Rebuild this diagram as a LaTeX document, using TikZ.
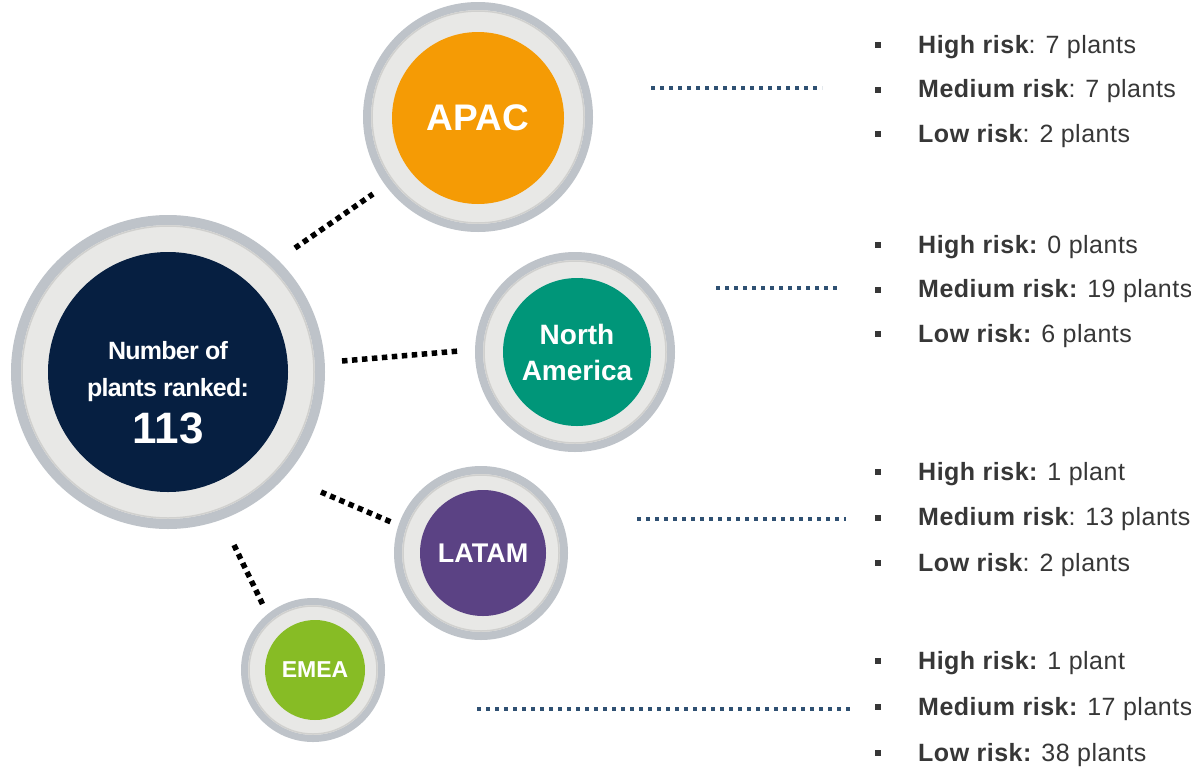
\documentclass[tikz,border=0pt]{standalone}
\usepackage{fontspec}
\setmainfont{Liberation Sans}
\newfontfamily\listfont{Liberation Sans}[LetterSpace=2]
\newfontfamily\tightfont{Liberation Sans}[LetterSpace=-3]
\definecolor{ringgray}{RGB}{190,195,201}
\definecolor{ringmid}{RGB}{208,208,206}
\definecolor{ringlight}{RGB}{232,232,230}
\definecolor{navy}{RGB}{6,31,65}
\definecolor{apacc}{RGB}{245,155,5}
\definecolor{nac}{RGB}{0,150,121}
\definecolor{latamc}{RGB}{91,66,132}
\definecolor{emeac}{RGB}{135,188,37}
\definecolor{linkblue}{RGB}{47,80,114}
\definecolor{txt}{RGB}{55,55,55}
\begin{document}
\begin{tikzpicture}[x=1pt,y=-1pt,
 ring/.style={circle, fill=ringlight, draw=ringgray, inner sep=0pt},
 ringline/.style={circle, draw=ringmid, line width=1.5pt, inner sep=0pt},
 core/.style={circle, inner sep=0pt, text=white, font=\bfseries, align=center},
 bigtext/.style={anchor=base, inner sep=0pt, text=white},
 blackdots/.style={line width=5.5pt, dash pattern=on 5.5pt off 4.5pt, black},
 bluedots/.style={line width=3.5pt, dash pattern=on 3.5pt off 5.5pt, linkblue},
 item/.style={anchor=base west, inner sep=0pt, text=txt, font=\listfont\fontsize{25}{30}\selectfont},
 bul/.style={rectangle, fill=txt, minimum size=6pt, inner sep=0pt},
]
\useasboundingbox[fill=white] (0,0) rectangle (1191,766);

% big circle
\node[ring, line width=10pt, minimum size=304pt] (big) at (168,372) {};
\node[ringline, minimum size=292pt] (bigl) at (168,372) {};
\node[core, fill=navy, minimum size=240pt] (bigc) at (168,372) {};
\node[bigtext, font=\tightfont\bfseries\fontsize{25}{30}\selectfont] (bigt1) at (168,359) {Number of};
\node[bigtext, font=\tightfont\bfseries\fontsize{25}{30}\selectfont] (bigt2) at (168,396) {plants ranked:};
\node[bigtext, font=\bfseries\fontsize{44}{50}\selectfont] (bigt3) at (168,443) {113};

% APAC
\node[ring, line width=8pt, minimum size=222pt] (apac) at (478,117) {};
\node[ringline, minimum size=212pt] (apacl) at (478,117) {};
\node[core, fill=apacc, minimum size=172pt, font=\bfseries\fontsize{37}{44}\selectfont] (apacc) at (478,118) {APAC};

% North America
\node[ring, line width=8pt, minimum size=192pt] (na) at (575,352) {};
\node[ringline, minimum size=182pt] (nal) at (575,352) {};
\node[core, fill=nac, minimum size=148pt, font=\bfseries\fontsize{28}{36}\selectfont] (nac) at (577,352) {North\\America};

% LATAM
\node[ring, line width=8pt, minimum size=166pt] (latam) at (481,553) {};
\node[ringline, minimum size=156pt] (latami) at (481,553) {};
\node[core, fill=latamc, minimum size=126pt, font=\bfseries\fontsize{27}{32}\selectfont] (latamc) at (483,553) {LATAM};

% EMEA
\node[ring, line width=7pt, minimum size=137pt] (emea) at (313,670) {};
\node[ringline, minimum size=128pt] (emeal) at (313,670) {};
\node[core, fill=emeac, minimum size=100pt, font=\bfseries\fontsize{23}{28}\selectfont] (emeac) at (315,670) {EMEA};

% black dotted connectors
\coordinate (k1a) at (295,248); \coordinate (k1b) at (373,194);
\coordinate (k2a) at (342,361); \coordinate (k2b) at (459,351);
\coordinate (k3a) at (321,492); \coordinate (k3b) at (391,522);
\coordinate (k4a) at (234,545); \coordinate (k4b) at (263,605);
\draw[blackdots] (k1a) -- (k1b);
\draw[blackdots] (k2a) -- (k2b);
\draw[blackdots] (k3a) -- (k3b);
\draw[blackdots] (k4a) -- (k4b);

% blue dotted lines
\coordinate (b1a) at (651,88); \coordinate (b1b) at (822,88);
\coordinate (b2a) at (716,288); \coordinate (b2b) at (839,288);
\coordinate (b3a) at (637,519); \coordinate (b3b) at (846,519);
\coordinate (b4a) at (477,709); \coordinate (b4b) at (852,709);
\draw[bluedots] (b1a) -- (b1b);
\draw[bluedots] (b2a) -- (b2b);
\draw[bluedots] (b3a) -- (b3b);
\draw[bluedots] (b4a) -- (b4b);

% APAC list
\node[bul] (a1b) at (878,45) {};
\node[item] (a1) at (918,53) {\bfseries High risk\mdseries: 7 plants};
\node[bul] (a2b) at (878,89.5) {};
\node[item] (a2) at (918,97.5) {\bfseries Medium risk\mdseries: 7 plants};
\node[bul] (a3b) at (878,134) {};
\node[item] (a3) at (918,142) {\bfseries Low risk\mdseries: 2 plants};

% NA list
\node[bul] (n1b) at (878,245) {};
\node[item] (n1) at (918,253) {\bfseries High risk:\mdseries{} 0 plants};
\node[bul] (n2b) at (878,289.5) {};
\node[item] (n2) at (918,297.5) {\bfseries Medium risk:\mdseries{} 19 plants};
\node[bul] (n3b) at (878,334) {};
\node[item] (n3) at (918,342) {\bfseries Low risk:\mdseries{} 6 plants};

% LATAM list
\node[bul] (l1b) at (878,472) {};
\node[item] (l1) at (918,480) {\bfseries High risk:\mdseries{} 1 plant};
\node[bul] (l2b) at (878,517.5) {};
\node[item] (l2) at (918,525.5) {\bfseries Medium risk\mdseries: 13 plants};
\node[bul] (l3b) at (878,563) {};
\node[item] (l3) at (918,571) {\bfseries Low risk\mdseries: 2 plants};

% EMEA list
\node[bul] (e1b) at (878,661) {};
\node[item] (e1) at (918,669) {\bfseries High risk:\mdseries{} 1 plant};
\node[bul] (e2b) at (878,707) {};
\node[item] (e2) at (918,715) {\bfseries Medium risk:\mdseries{} 17 plants};
\node[bul] (e3b) at (878,753) {};
\node[item] (e3) at (918,761) {\bfseries Low risk:\mdseries{} 38 plants};
\end{tikzpicture}
\end{document}
